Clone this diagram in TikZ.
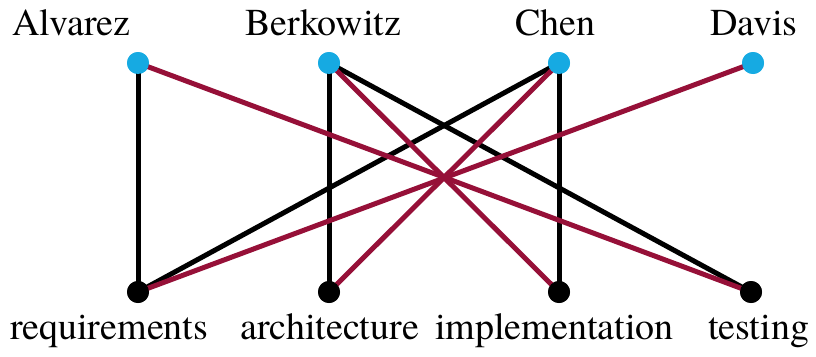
\documentclass[tikz,border=0pt]{standalone}
\usepackage{fontspec}
\setmainfont{texgyretermes-regular.otf}
\definecolor{personblue}{RGB}{22,170,226}
\definecolor{linkred}{RGB}{150,16,56}
\begin{document}
\begin{tikzpicture}[x=1pt,y=-1pt,
  person/.style={circle,fill=personblue,inner sep=0pt,minimum size=22pt},
  task/.style={circle,fill=black,inner sep=0pt,minimum size=22pt},
  caption/.style={anchor=base west,inner sep=0pt,font=\fontsize{38}{38}\selectfont},
  plain/.style={line width=5pt,black},
  cross/.style={line width=5pt,linkred}]
\useasboundingbox (0,0) rectangle (816,356);
% people on the top row
\node[person] (alv) at (138,63) {};
\node[person] (ber) at (329,63) {};
\node[person] (che) at (559,63) {};
\node[person] (dav) at (753,63) {};
% tasks on the bottom row
\node[task] (req) at (138,292) {};
\node[task] (arc) at (329,292) {};
\node[task] (imp) at (559,292) {};
\node[task] (tst) at (751,292) {};
% names and task labels
\node[caption] (lalv) at (12,35) {Alvarez};
\node[caption] (lber) at (245,35) {Berkowitz};
\node[caption] (lche) at (515,35) {Chen};
\node[caption] (ldav) at (710,35) {Davis};
\node[caption] (lreq) at (10,339) {requirements};
\node[caption] (larc) at (240,339) {architecture};
\node[caption] (limp) at (435,339) {implementation};
\node[caption] (ltst) at (708,339) {testing};
% assignments
\draw[plain] (alv.center) -- (req.center);
\draw[plain] (ber.center) -- (arc.center);
\draw[plain] (ber.center) -- (tst.center);
\draw[plain] (che.center) -- (req.center);
\draw[plain] (che.center) -- (imp.center);
\draw[cross] (alv.center) -- (tst.center);
\draw[cross] (ber.center) -- (imp.center);
\draw[cross] (che.center) -- (arc.center);
\draw[cross] (dav.center) -- (req.center);
% dots drawn again above the lines
\foreach \n/\s in {alv/person,ber/person,che/person,dav/person,req/task,arc/task,imp/task,tst/task}
  \node[\s] at (\n) {};
\end{tikzpicture}
\end{document}
